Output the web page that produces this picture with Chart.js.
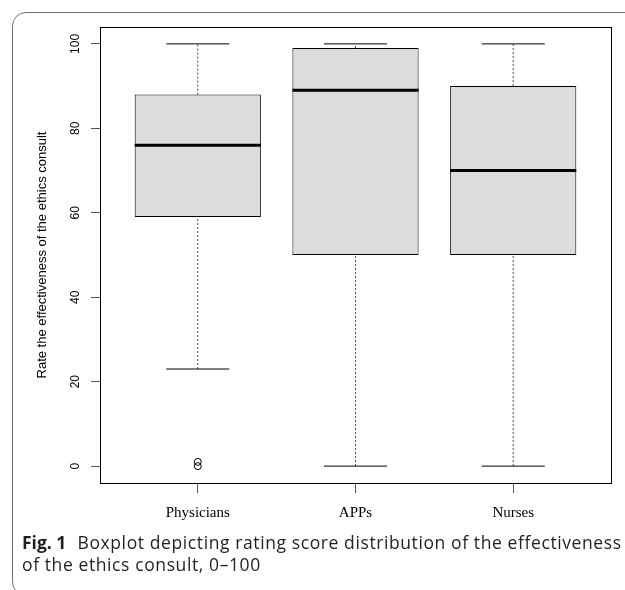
<!DOCTYPE html>
<html>
<head>
<meta charset="utf-8">
<script src="https://cdn.jsdelivr.net/npm/chart.js@4.4.1/dist/chart.umd.min.js"></script>
<style>
  html, body { margin: 0; padding: 0; background: #fff; }
  #wrap { position: relative; width: 625px; height: 590px; overflow: hidden; }
  #frame {
    position: absolute; left: 12px; top: 12px; width: 700px; height: 582px;
    border: 1.5px solid #6e6e6e; border-radius: 14px;
  }
  #chart { position: absolute; left: 0; top: 0; }
  .caption {
    position: absolute; left: 22px; top: 531px;
    font-family: "Open Sans"; font-size: 17.5px; line-height: 22px;
    letter-spacing: 0.6px;
    color: #231f20; white-space: nowrap;
  }
  .caption b { font-weight: 700; margin-right: 6px; letter-spacing: 0; }
</style>
</head>
<body>
<div id="wrap">
  <div id="frame"></div>
  <canvas id="chart" width="625" height="590"></canvas>
  <div class="caption">
    <div><b>Fig. 1</b> Boxplot depicting rating score distribution of the effectiveness</div>
    <div>of the ethics consult, 0–100</div>
  </div>
</div>
<script>
// values
const groups = ["Physicians", "APPs", "Nurses"];
const whiskerLow = [23, 0, 0];
const q1 = [59, 50, 50];
const median = [76, 89, 70];
const q3 = [88, 99, 90];
const whiskerHigh = [100, 100, 100];
const outlierGroup = [1, 1];
const outlierValue = [0, 1];
const yTicks = [0, 20, 40, 60, 80, 100];

const positions = groups.map((g, i) => i + 1);
const boxWidth = 0.8;
const capWidth = 0.4;

function buildBoxes() {
  return positions.map((x, i) => ({ x: x, y: [q1[i], q3[i]] }));
}
function buildWhiskers() {
  const pts = [];
  positions.forEach((x, i) => {
    pts.push({ x: x, y: q3[i] }, { x: x, y: whiskerHigh[i] }, { x: x, y: null });
    pts.push({ x: x, y: whiskerLow[i] }, { x: x, y: q1[i] }, { x: x, y: null });
  });
  return pts;
}
function buildCaps() {
  const pts = [];
  positions.forEach((x, i) => {
    [whiskerHigh[i], whiskerLow[i]].forEach((v) => {
      pts.push({ x: x - capWidth / 2, y: v }, { x: x + capWidth / 2, y: v }, { x: x, y: null });
    });
  });
  return pts;
}
function buildMedians() {
  const pts = [];
  positions.forEach((x, i) => {
    pts.push({ x: x - boxWidth / 2, y: median[i] }, { x: x + boxWidth / 2, y: median[i] }, { x: x, y: null });
  });
  return pts;
}
function buildOutliers() {
  return outlierGroup.map((g, i) => ({ x: g, y: outlierValue[i] }));
}

const plotBox = {
  id: "plotBox",
  afterDraw(chart) {
    const { ctx, chartArea: a } = chart;
    ctx.save();
    ctx.strokeStyle = "#000";
    ctx.lineWidth = 1;
    ctx.strokeRect(Math.round(a.left) + 0.5, Math.round(a.top) + 0.5,
      Math.round(a.right - a.left), Math.round(a.bottom - a.top));
    ctx.restore();
  },
};

const lineBase = {
  type: "line",
  pointRadius: 0,
  pointHoverRadius: 0,
  fill: false,
  tension: 0,
  spanGaps: false,
};

new Chart(document.getElementById("chart").getContext("2d"), {
  type: "bar",
  data: {
    datasets: [
      {
        label: "box",
        data: buildBoxes(),
        backgroundColor: "#dcdcdc",
        borderColor: "#000",
        borderWidth: 1,
        borderSkipped: false,
        categoryPercentage: 1,
        barPercentage: boxWidth,
        order: 4,
      },
      Object.assign({}, lineBase, {
        label: "whisker",
        data: buildWhiskers(),
        borderColor: "#444",
        borderWidth: 1,
        borderDash: [2, 2],
        order: 3,
      }),
      Object.assign({}, lineBase, {
        label: "cap",
        data: buildCaps(),
        borderColor: "#000",
        borderWidth: 1,
        order: 2,
      }),
      Object.assign({}, lineBase, {
        label: "median",
        data: buildMedians(),
        borderColor: "#000",
        borderWidth: 3,
        order: 1,
      }),
      Object.assign({}, lineBase, {
        label: "outlier",
        data: buildOutliers(),
        showLine: false,
        pointRadius: 3.5,
        pointBackgroundColor: "rgba(0,0,0,0)",
        pointBorderColor: "#000",
        pointBorderWidth: 1,
        order: 0,
      }),
    ],
  },
  options: {
    responsive: false,
    animation: false,
    layout: { padding: { top: 27, right: 14, left: 0, bottom: 0 } },
    plugins: { legend: { display: false }, tooltip: { enabled: false } },
    scales: {
      x: {
        type: "linear",
        min: 0.38,
        max: 3.62,
        offset: false,
        afterBuildTicks: (s) => { s.ticks = positions.map((v) => ({ value: v })); },
        afterFit: (s) => { s.height = 107; },
        ticks: {
          callback: (v, i) => groups[i],
          font: { family: '"Liberation Serif"', size: 15 },
          color: "#000",
          padding: 11,
          maxRotation: 0,
          autoSkip: false,
        },
        grid: { offset: false, drawOnChartArea: false, drawTicks: true, tickLength: 10, color: "#555" },
        border: { display: false },
      },
      y: {
        min: -4,
        max: 104,
        afterBuildTicks: (s) => { s.ticks = yTicks.map((v) => ({ value: v })); },
        afterFit: (s) => { s.width = 100; },
        ticks: {
          minRotation: 90,
          maxRotation: 90,
          crossAlign: "center",
          font: { family: '"Liberation Sans"', size: 12 },
          color: "#000",
          padding: 5,
        },
        grid: { drawOnChartArea: false, drawTicks: true, tickLength: 9, color: "#555" },
        border: { display: false },
        title: {
          display: true,
          text: "Rate the effectiveness of the ethics consult",
          font: { family: '"Liberation Sans"', size: 13 },
          color: "#000",
          padding: { top: 35, bottom: 0 },
        },
      },
    },
  },
  plugins: [plotBox],
});
</script>
</body>
</html>
